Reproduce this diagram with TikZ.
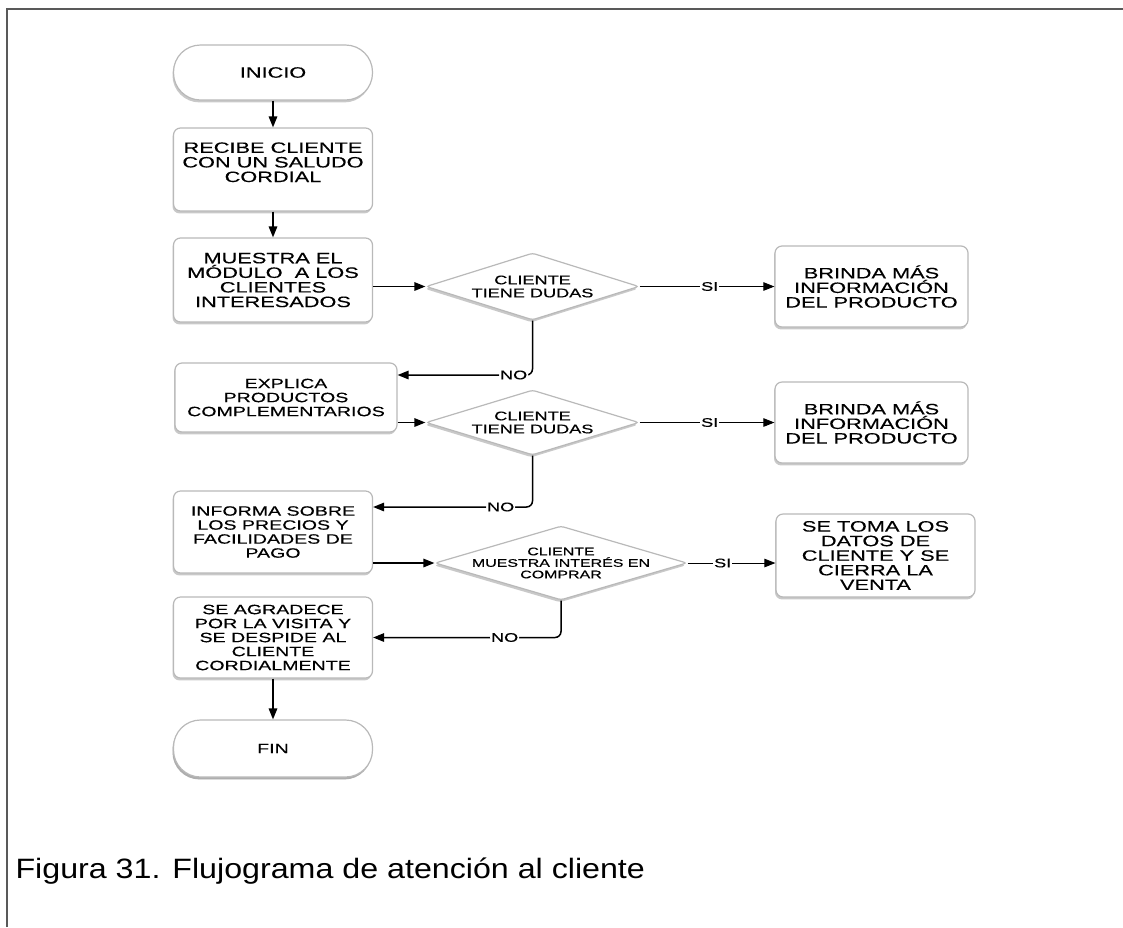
\documentclass[tikz,border=0pt]{standalone}
\usepackage{fontspec}
\setmainfont{Liberation Sans}
\newfontfamily\flujo[FakeStretch=1.45,FakeBold=0.35]{Liberation Sans}
\newfontfamily\pie[FakeStretch=1.15]{Liberation Sans}
\usetikzlibrary{arrows.meta,shapes.geometric,shadows}

\tikzset{
    caja/.style={draw=gray!55, line width=1.2pt, rounded corners=7pt, fill=white,
        drop shadow={shadow xshift=-1pt, shadow yshift=-2.4pt, fill=gray!85},
        minimum width=199pt, align=center, inner sep=2pt,
        font=\flujo\fontsize{15}{14.6}\selectfont},
    cajamedia/.style={caja, font=\flujo\fontsize{13.5}{14}\selectfont},
    terminal/.style={caja, rounded corners=27pt},
    decision/.style={caja, diamond, rounded corners=3pt, inner sep=0pt,
        minimum width=213pt},
    dectxt/.style={align=center, inner sep=0pt, font=\flujo\fontsize{12.5}{13}\selectfont},
    flecha/.style={->, line width=1.5pt, rounded corners=6pt},
    flechasi/.style={->, line width=0.9pt},
    etiq/.style={fill=white, inner sep=1pt, font=\flujo\fontsize{12.5}{12}\selectfont},
}

\begin{document}
\begin{tikzpicture}[x=1pt, y=-1pt, >={Triangle[length=11pt,width=8.5pt]}]
    \useasboundingbox (0,0) rectangle (1123,927);
    \draw[gray!70!black, line width=1.6pt] (7,927) -- (7,9) -- (1123,9);

    % columna principal
    \node[terminal, minimum height=55pt] (inicio) at (273,72.5) {INICIO};
    \node[caja, minimum height=83pt] (recibe) at (273,169.5) {RECIBE CLIENTE\\CON UN SALUDO\\CORDIAL\\\mbox{}};
    \node[caja, minimum height=84pt] (muestra) at (273,280) {MUESTRA EL\\MÓDULO \ A LOS\\CLIENTES\\INTERESADOS};
    \node[cajamedia, minimum width=222pt, minimum height=69pt] (explica) at (286,397.5) {EXPLICA\\PRODUCTOS\\COMPLEMENTARIOS};
    \node[cajamedia, minimum height=82pt] (precios) at (273,532) {INFORMA SOBRE\\LOS PRECIOS Y\\FACILIDADES DE\\PAGO};
    \node[cajamedia, minimum height=81pt] (despide) at (273,637.5) {SE AGRADECE\\POR LA VISITA Y\\SE DESPIDE AL\\CLIENTE\\CORDIALMENTE};
    \node[terminal, cajamedia, rounded corners=27pt, minimum height=57pt] (fin) at (273,748.5) {FIN};

    % decisiones
    \node[decision, minimum height=67pt] (dud1) at (532.5,286.5) {};
    \node[dectxt] (dud1t) at (dud1) {CLIENTE\\TIENE DUDAS};
    \node[decision, minimum height=65pt] (dud2) at (532.5,422.5) {};
    \node[dectxt] (dud2t) at (dud2) {CLIENTE\\TIENE DUDAS};
    \node[decision, minimum width=252pt, minimum height=74pt] (compra) at (561,563) {};
    \node[dectxt, font=\flujo\fontsize{11}{11.5}\selectfont] (comprat) at (compra) {CLIENTE\\MUESTRA INTERÉS EN\\COMPRAR};

    % respuestas afirmativas
    \node[caja, minimum width=193pt, minimum height=81pt] (info1) at (871.5,286.5) {BRINDA MÁS\\INFORMACIÓN\\DEL PRODUCTO};
    \node[caja, minimum width=193pt, minimum height=81pt] (info2) at (871.5,422.5) {BRINDA MÁS\\INFORMACIÓN\\DEL PRODUCTO};
    \node[caja, minimum width=199pt, minimum height=83pt] (venta) at (875.5,555.5) {SE TOMA LOS\\DATOS DE\\CLIENTE Y SE\\CIERRA LA\\VENTA};

    \draw[flecha] (inicio) -- (recibe);
    \draw[flecha] (recibe) -- (muestra);
    \draw[flecha] (muestra.east |- dud1.west) -- (dud1.west);
    \draw[flecha] (dud1.south) |- node[etiq, pos=0.57] (no1) {NO} ([yshift=22.5pt]explica.east);
    \draw[flecha] (explica.east |- dud2.west) -- (dud2.west);
    \draw[flecha] (dud2.south) |- node[etiq, pos=0.6] (no2) {NO} ([yshift=25pt]precios.east);
    \draw[flecha] (precios.east |- compra.west) -- (compra.west);
    \draw[flecha] (compra.south) |- node[etiq, pos=0.65] (no3) {NO} (despide.east);
    \draw[flecha] (despide) -- (fin);

    \draw[flechasi] (dud1.east) -- node[etiq, pos=0.52] (si1) {SI} (dud1.east -| info1.west);
    \draw[flechasi] (dud2.east) -- node[etiq, pos=0.52] (si2) {SI} (dud2.east -| info2.west);
    \draw[flechasi] (compra.east) -- node[etiq, pos=0.4] (si3) {SI} (compra.east -| venta.west);

    \node[anchor=base west, font=\pie\fontsize{28}{30}\selectfont] (pie) at (12,878) {Figura 31. Flujograma de atención al cliente};
\end{tikzpicture}
\end{document}
